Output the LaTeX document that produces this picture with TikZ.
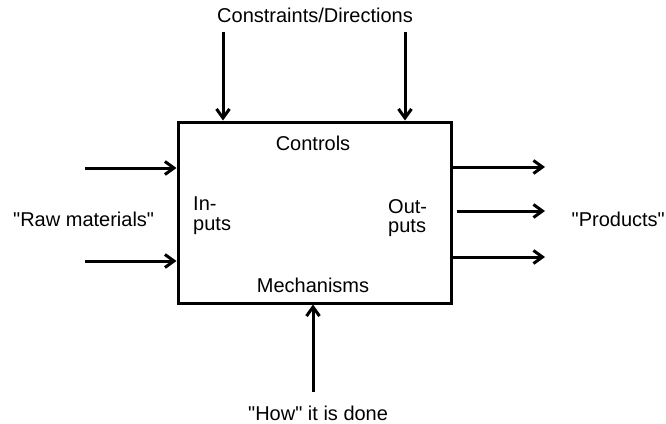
\documentclass[tikz,border=0pt]{standalone}
\usepackage{fontspec}
\setmainfont{Liberation Sans}[Ligatures=TeXOff]
\usetikzlibrary{arrows.meta,positioning}

\tikzset{
  flow/.style={-{Straight Barb[length=9pt,width=13pt]}, line width=3pt},
  lbl/.style={font=\fontsize{20}{19.5}\selectfont, inner sep=0pt},
}

\begin{document}
\begin{tikzpicture}[x=1pt,y=-1pt]
    \useasboundingbox (0,0) rectangle (666,423);

    % activity box
    \node[draw, line width=3pt, minimum width=273pt, minimum height=181pt, inner sep=0pt] (func) at (314.5,212.5) {};

    % texts inside the box
    \node[lbl, anchor=base] (ctrl) at (313,150) {Controls};
    \node[lbl, anchor=base] (mech) at (313,292) {Mechanisms};
    \node[lbl, anchor=north west, align=left] (inp) at (193,197) {In-\\puts};
    \node[lbl, anchor=north west, align=left] (outp) at (388,199) {Out-\\puts};

    % texts outside
    \node[lbl, anchor=base] (cons) at (315,23) {Constraints/Directions};
    \node[lbl, anchor=base west] (raw) at (13,226) {"Raw materials"};
    \node[lbl, anchor=base east] (prod) at (665,226) {"Products"};
    \node[lbl, anchor=base west] (how) at (248,420) {"How" it is done};

    % free ends of the arrows
    \coordinate (ctlA) at (223,32);
    \coordinate (ctlB) at (405,32);
    \coordinate (inA) at (85,168);
    \coordinate (inB) at (85,261);
    \coordinate (outA) at (545,167);
    \coordinate (outB) at (545,211);
    \coordinate (outC) at (545,257);
    \coordinate (mechIn) at (313,392);

    % controls
    \draw[flow] (ctlA) -- (ctlA |- func.north);
    \draw[flow] (ctlB) -- (ctlB |- func.north);
    % inputs
    \draw[flow] (inA) -- (inA -| func.west);
    \draw[flow] (inB) -- (inB -| func.west);
    % outputs
    \draw[flow] (outA -| func.east) -- (outA);
    \draw[flow] ([xshift=4pt]outB -| func.east) -- (outB);
    \draw[flow] (outC -| func.east) -- (outC);
    % mechanism
    \draw[flow] (mechIn) -- (mechIn |- func.south);
\end{tikzpicture}
\end{document}
